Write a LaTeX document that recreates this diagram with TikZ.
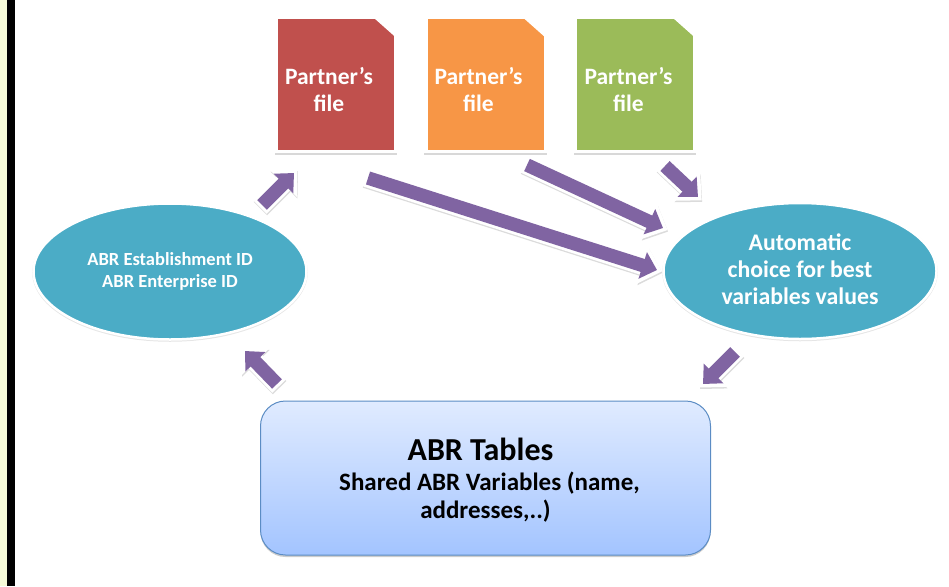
\documentclass[tikz,border=0pt]{standalone}
\usepackage{fontspec}
\setmainfont{Carlito}
\usetikzlibrary{arrows.meta,shapes.geometric,shadows}
\definecolor{arrowpurple}{HTML}{8064A2}
\definecolor{ovalblue}{HTML}{4BACC6}
\definecolor{filered}{HTML}{C0504D}
\definecolor{fileorange}{HTML}{F79646}
\definecolor{filegreen}{HTML}{9BBB59}
\definecolor{tabletop}{HTML}{E0EBFF}
\definecolor{tablebottom}{HTML}{A3C4FF}
\definecolor{tableline}{HTML}{5B8CC4}
\definecolor{baryellow}{HTML}{F6FBD8}
\tikzset{
  filebox/.style={rectangle,minimum width=119.4pt,minimum height=134.4pt,inner sep=0pt,outer sep=0pt,
    draw=white,line width=3.4pt,
    drop shadow={shadow xshift=0pt,shadow yshift=-1.5pt,fill=black!30,draw=black!30,opacity=.5}},
  filetext/.style={text=white,align=center,font=\bfseries\fontsize{23.5}{27}\selectfont,inner sep=0pt},
  oval/.style={ellipse,fill=ovalblue,draw=white,line width=2.5pt,inner sep=0pt,outer sep=0pt,
    minimum width=273pt,minimum height=136pt,text=white,align=center,
    drop shadow={shadow xshift=0pt,shadow yshift=-1pt,fill=black!20,draw=black!20,opacity=.5}},
  tablebox/.style={rectangle,rounded corners=25pt,draw=tableline,line width=1pt,
    top color=tabletop,bottom color=tablebottom,minimum width=450pt,minimum height=154pt,
    inner sep=0pt,outer sep=0pt,align=center,
    drop shadow={shadow xshift=0pt,shadow yshift=-2pt,fill=black!40,opacity=.5}},
  blockarrow/.style={draw=arrowpurple,line width=13.5pt,-{Triangle[width=27pt,length=15pt,fill=arrowpurple]},
    preaction={draw=black!14,line width=19pt,transform canvas={xshift=0.5pt,yshift=-1.5pt},
      shorten >=-5pt,shorten <=-3pt,-{Triangle[width=37pt,length=20pt,fill=black!14]}},
    preaction={draw=white,line width=19pt,
      shorten >=-5pt,shorten <=-3pt,-{Triangle[width=37pt,length=20pt,fill=white]}}}
}
\begin{document}
\begin{tikzpicture}[x=1pt,y=-1pt]
  \useasboundingbox (0,0) rectangle (949,586);
  \fill[baryellow] (0,0) rectangle (7,586);
  \fill[black] (7,0) rectangle (15,586);

  \node[filebox,fill=filered] (redfile) at (336,84.5) {};
  \node[filebox,fill=fileorange] (orangefile) at (485.5,84.5) {};
  \node[filebox,fill=filegreen] (greenfile) at (635,84.5) {};
  % cut corner of each sheet
  \foreach \sheet in {redfile,orangefile,greenfile}
    \fill[white] ([xshift=-22.5pt]\sheet.north east) -- ([xshift=2pt,yshift=2pt]\sheet.north east) -- ([yshift=-20pt]\sheet.north east) -- cycle;
  \node[filetext] (redtext) at (329,90) {Partner’s\\file};
  \node[filetext] (orangetext) at (478.5,90) {Partner’s\\file};
  \node[filetext] (greentext) at (628.5,90) {Partner’s\\file};

  \node[oval,font=\bfseries\fontsize{18.5}{22}\selectfont] (estab) at (170,271.5) {ABR Establishment ID\\ ABR Enterprise ID};
  \node[oval,font=\bfseries\fontsize{23.8}{27}\selectfont] (choice) at (800,271) {Automatic\\choice for best\\variables values\rule[-3pt]{0pt}{0pt}};

  \node[tablebox,font=\bfseries\fontsize{25}{28}\selectfont] (tables) at (485.5,478) {{\fontsize{32}{36}\selectfont\rule{0pt}{27pt}ABR Tables\hspace*{10pt}}\\[2pt]
    \hspace*{8pt}Shared ABR Variables (name,\\
    addresses,..)};

  \draw[blockarrow] ([shift={(92,-66.5)}]estab.center) -- ([shift={(-42,21.3)}]redfile.south);
  \draw[blockarrow] ([shift={(32,26.3)}]redfile.south) -- ([shift={(-143,-1)}]choice.center);
  \draw[blockarrow] ([shift={(41.5,13.3)}]orangefile.south) -- ([shift={(-137,-43)}]choice.center);
  \draw[blockarrow] ([shift={(30,14.3)}]greenfile.south) -- ([shift={(-102,-74)}]choice.center);
  \draw[blockarrow] ([shift={(-65,81)}]choice.center) -- ([shift={(217.5,-17)}]tables.north);
  \draw[blockarrow] ([shift={(-208.5,-17)}]tables.north) -- ([shift={(75,79.5)}]estab.center);
\end{tikzpicture}
\end{document}
